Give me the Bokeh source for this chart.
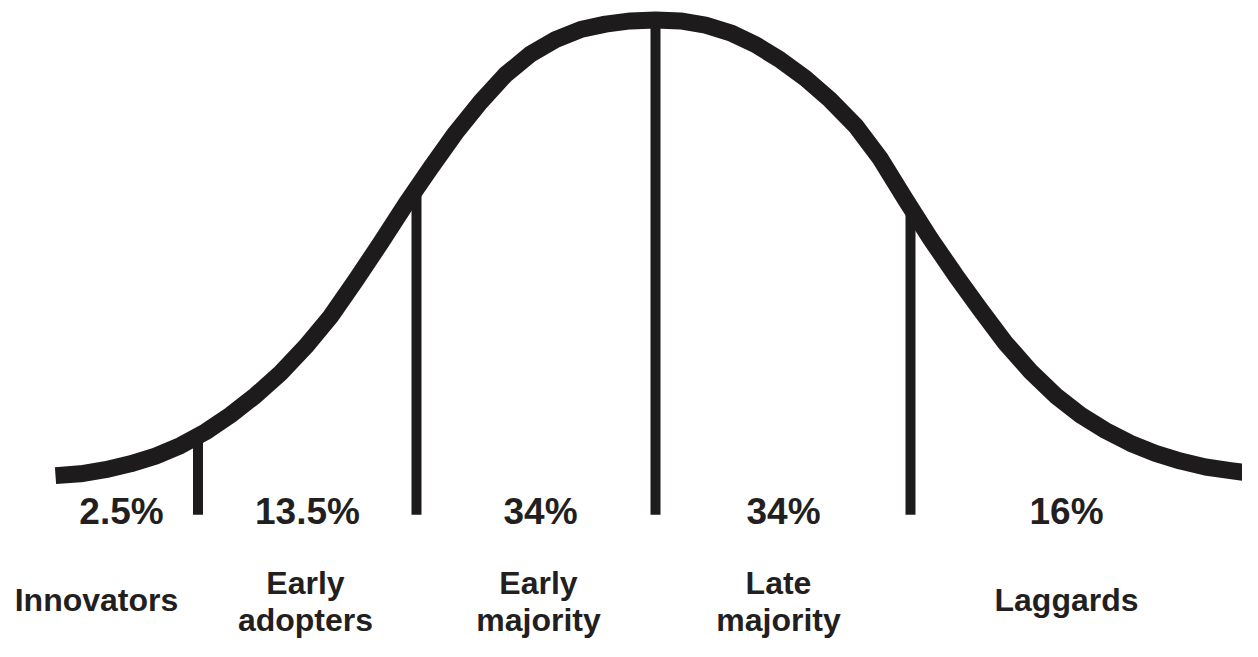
from bokeh.plotting import figure
from bokeh.models import Range1d, ColumnDataSource
from bokeh.core.properties import value
from bokeh.embed import file_html
from bokeh.resources import INLINE

# ---- data (x in standard deviations from the mean, y in % of peak height) ----
curve_x = [-2.4, -2.3, -2.2, -2.1, -2.0, -1.9, -1.8, -1.7, -1.6, -1.5,
           -1.4, -1.3, -1.2, -1.1, -1.0, -0.9, -0.8, -0.7, -0.6, -0.5,
           -0.4, -0.3, -0.2, -0.1, 0.0, 0.1, 0.2, 0.3, 0.4, 0.5,
           0.6, 0.7, 0.8, 0.9, 1.0, 1.1, 1.2, 1.3, 1.4, 1.5,
           1.6, 1.7, 1.8, 1.9, 2.0, 2.1, 2.2, 2.3, 2.4]
curve_y = [0.0, 0.4, 1.3, 2.6, 4.3, 6.6, 9.6, 13.3, 17.6, 22.5,
           28.3, 34.9, 42.8, 51.0, 59.5, 67.5, 75.2, 82.0, 88.0, 92.5,
           95.7, 97.9, 99.1, 99.8, 100.0, 99.8, 98.9, 97.2, 94.6, 91.2,
           87.2, 82.4, 76.8, 69.5, 60.6, 52.0, 44.0, 36.4, 29.1, 22.9,
           17.6, 13.3, 9.9, 7.1, 4.9, 3.2, 1.9, 1.1, 0.4]

divider_x = [-1.83, -0.956, 0.0, 1.02]
divider_top = [9.0, 63.0, 100.0, 59.0]

shares = ["2.5%", "13.5%", "34%", "34%", "16%"]
categories = ["Innovators", "Early\nadopters", "Early\nmajority", "Late\nmajority", "Laggards"]

# ---- layout ----
share_pos_x = [-2.136, -1.392, -0.46, 0.512, 1.644]
share_base_y = -7.9
cat_pos_x = [-2.236, -1.40, -0.468, 0.492, 1.644]
single_base_y = -27.2
double_base_y = [-23.5, -31.6]
divider_bottom = -8.6

ink = "#1e1b1c"
text_ink = "#231f20"

p = figure(width=1242, height=641, output_backend="svg", toolbar_location=None,
           x_range=Range1d(-2.62, 2.348), y_range=Range1d(-36.40, 104.28),
           x_axis_location=None, y_axis_location=None, min_border=0,
           background_fill_color="white", border_fill_color="white")
p.outline_line_color = None
p.grid.visible = False

# dividers
p.segment(x0=divider_x, y0=divider_top, x1=divider_x, y1=[divider_bottom] * len(divider_x),
          line_width=10, line_color=ink, line_cap="butt")

# bell curve
p.line(curve_x, curve_y, line_width=17, line_color=ink, line_join="round", line_cap="butt")

# percentages
src_share = ColumnDataSource(dict(x=share_pos_x, y=[share_base_y] * len(shares), t=shares))
p.text(x="x", y="y", text="t", source=src_share, text_align="center",
       text_baseline="alphabetic", text_font=value("Liberation Sans"),
       text_font_style="bold", text_font_size="37px", text_color=text_ink)

# category labels, one line at a time
lx, ly, lt = [], [], []
for cx, cat in zip(cat_pos_x, categories):
    lines = cat.split("\n")
    if len(lines) == 1:
        lx.append(cx); ly.append(single_base_y); lt.append(lines[0])
    else:
        for by, ln in zip(double_base_y, lines):
            lx.append(cx); ly.append(by); lt.append(ln)
src_cat = ColumnDataSource(dict(x=lx, y=ly, t=lt))
p.text(x="x", y="y", text="t", source=src_cat, text_align="center",
       text_baseline="alphabetic", text_font=value("Liberation Sans"),
       text_font_style="bold", text_font_size="32px", text_color=text_ink)

open("out.html", "w").write(file_html(p, INLINE))
